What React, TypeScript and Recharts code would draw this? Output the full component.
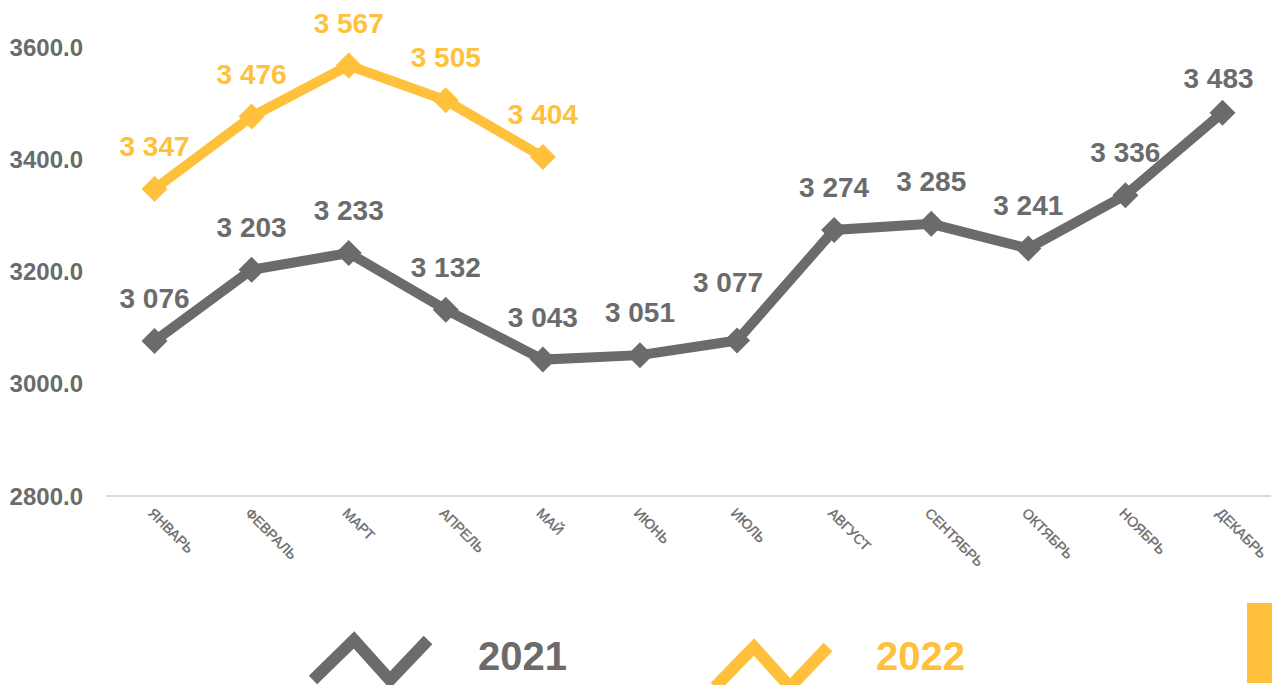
import { LineChart, Line, XAxis, YAxis } from "recharts"

const months = [
    "ЯНВАРЬ", "ФЕВРАЛЬ", "МАРТ", "АПРЕЛЬ", "МАЙ", "ИЮНЬ",
    "ИЮЛЬ", "АВГУСТ", "СЕНТЯБРЬ", "ОКТЯБРЬ", "НОЯБРЬ", "ДЕКАБРЬ",
]

const values2021 = [3076, 3203, 3233, 3132, 3043, 3051, 3077, 3274, 3285, 3241, 3336, 3483]
const values2022 = [3347, 3476, 3567, 3505, 3404]

const yTicks = [2800, 3000, 3200, 3400, 3600]

const GRAY = "#6b6b6b"
const YELLOW = "#ffc13b"
const FONT = "'Liberation Sans', Arial, sans-serif"

// label nudges (dx, dy) where the original moved a label off the line
const labelShift2021: Record<number, [number, number]> = { 6: [-9, -16], 11: [-4, 8] }
const labelShift2022: Record<number, [number, number]> = {}

const data = months.map((m, i) => ({
    month: m,
    y2021: values2021[i],
    y2022: i < values2022.length ? values2022[i] : null,
}))

const fmt = (v: number) => {
    const s = String(v)
    return s.slice(0, s.length - 3) + " " + s.slice(-3)
}

const makeDot = (color: string) => (props: any) => {
    const { cx, cy, index } = props
    if (cx == null || cy == null) return <g key={index} />
    const r = 13
    return (
        <path
            key={index}
            d={`M${cx},${cy - r} L${cx + r},${cy} L${cx},${cy + r} L${cx - r},${cy} Z`}
            fill={color}
        />
    )
}

const makeLabel = (color: string, shifts: Record<number, [number, number]>) => (props: any) => {
    const { x, y, value, index } = props
    if (value == null) return <g key={index} />
    const [dx, dy] = shifts[index] || [0, 0]
    return (
        <text
            key={index}
            x={x + dx}
            y={y - 33 + dy}
            textAnchor="middle"
            fill={color}
            fontSize={28}
            fontWeight="bold"
            fontFamily={FONT}
        >
            {fmt(value)}
        </text>
    )
}

const MonthTick = (props: any) => {
    const { x, y, payload } = props
    return (
        <g transform={`translate(${x - 7},${y + 10})`}>
            <text
                x={0}
                y={0}
                transform="rotate(45)"
                textAnchor="start"
                fill={GRAY}
                stroke={GRAY}
                strokeWidth={0.35}
                fontSize={14}
                fontFamily={FONT}
            >
                {payload.value}
            </text>
        </g>
    )
}

export default function App() {

    return (

        <div style={{ position: "absolute", left: 0, top: 0, width: 1272, height: 685, background: "#fff", overflow: "hidden" }}>

            <LineChart
                width={1272}
                height={685}
                data={data}
                margin={{ top: 47, right: 1, left: 0, bottom: 0 }}
            >

                <XAxis
                    dataKey="month"
                    interval={0}
                    height={189}
                    padding={{ left: 48.5, right: 48.5 }}
                    axisLine={{ stroke: "#d9d9d9", strokeWidth: 2 }}
                    tickLine={false}
                    tick={<MonthTick />}
                />

                <YAxis
                    width={106}
                    domain={[2800, 3600]}
                    ticks={yTicks}
                    axisLine={false}
                    tickLine={false}
                    tickMargin={17}
                    tickFormatter={(v: number) => v.toFixed(1)}
                    tick={{ fill: GRAY, fontSize: 24, fontWeight: "bold", fontFamily: FONT }}
                />

                <Line
                    dataKey="y2021"
                    stroke={GRAY}
                    strokeWidth={10}
                    strokeLinejoin="miter"
                    dot={makeDot(GRAY)}
                    activeDot={false}
                    label={makeLabel(GRAY, labelShift2021)}
                    isAnimationActive={false}
                />

                <Line
                    dataKey="y2022"
                    stroke={YELLOW}
                    strokeWidth={10}
                    strokeLinejoin="miter"
                    dot={makeDot(YELLOW)}
                    activeDot={false}
                    label={makeLabel(YELLOW, labelShift2022)}
                    isAnimationActive={false}
                />

            </LineChart>

            <svg width={1272} height={95} style={{ position: "absolute", left: 0, top: 590 }}>

                <polyline points="313,90 354,50 390,90 428,50" fill="none" stroke={GRAY} strokeWidth={12} />
                <text x={478} y={80} fill={GRAY} fontSize={40} fontWeight="bold" fontFamily={FONT}>2021</text>

                <polyline points="715,97 754,57 790,97 828,57" fill="none" stroke={YELLOW} strokeWidth={12} />
                <text x={876} y={80} fill={YELLOW} fontSize={40} fontWeight="bold" fontFamily={FONT}>2022</text>

                <rect x={1247} y={13} width={25} height={80} fill={YELLOW} />

            </svg>

        </div>

    )

}
